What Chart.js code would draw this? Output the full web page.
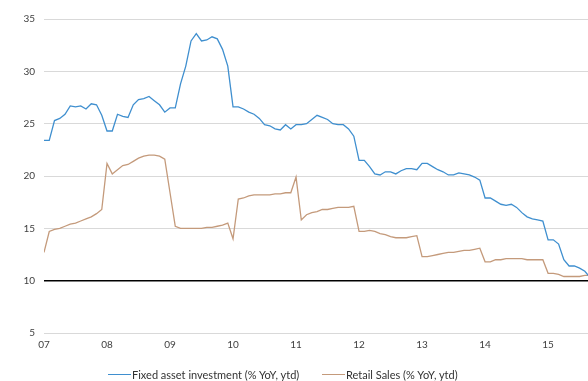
<!DOCTYPE html>
<html>
<head>
<meta charset="utf-8">
<script src="https://cdn.jsdelivr.net/npm/chart.js@4/dist/chart.umd.min.js"></script>
<style>
  html, body { margin: 0; padding: 0; background: #ffffff; }
  #wrap { position: relative; width: 588px; height: 381px; overflow: hidden; font-family: Lato, "Liberation Sans", sans-serif; }
  #c { position: absolute; left: 0; top: 0; }
  .leg { position: absolute; top: 366px; height: 16px; display: flex; align-items: center; font-size: 11px; color: #333333; white-space: nowrap; }
  .leg i { display: inline-block; width: 23px; height: 0; border-top: 1.3px solid; margin-right: 1px; }
</style>
</head>
<body>
<div id="wrap">
  <canvas id="c" width="588" height="381"></canvas>
  <div class="leg" id="leg1" style="left:108px"><i style="border-color:#3f8fcf"></i><span>Fixed asset investment (% YoY, ytd)</span></div>
  <div class="leg" id="leg2" style="left:322px"><i style="border-color:#c49a7b"></i><span>Retail Sales (% YoY, ytd)</span></div>
</div>
<script>
// Year tick labels (one per January, starting Jan 2007)
const yearLabels = ["07", "08", "09", "10", "11", "12", "13", "14", "15"];

// Series names
const seriesNames = ["Fixed asset investment (% YoY, ytd)", "Retail Sales (% YoY, ytd)"];

// Monthly values, Jan 2007 .. Sep 2015
const fixedAssetInvestment = [
  23.4, 23.4, 25.3, 25.5, 25.9, 26.7, 26.6, 26.7, 26.4, 26.9, 26.8, 25.8,
  24.3, 24.3, 25.9, 25.7, 25.6, 26.8, 27.3, 27.4, 27.6, 27.2, 26.8, 26.1,
  26.5, 26.5, 28.8, 30.5, 32.9, 33.6, 32.9, 33.0, 33.3, 33.1, 32.1, 30.5,
  26.6, 26.6, 26.4, 26.1, 25.9, 25.5, 24.9, 24.8, 24.5, 24.4, 24.9, 24.5,
  24.9, 24.9, 25.0, 25.4, 25.8, 25.6, 25.4, 25.0, 24.9, 24.9, 24.5, 23.8,
  21.5, 21.5, 20.9, 20.2, 20.1, 20.4, 20.4, 20.2, 20.5, 20.7, 20.7, 20.6,
  21.2, 21.2, 20.9, 20.6, 20.4, 20.1, 20.1, 20.3, 20.2, 20.1, 19.9, 19.6,
  17.9, 17.9, 17.6, 17.3, 17.2, 17.3, 17.0, 16.5, 16.1, 15.9, 15.8, 15.7,
  13.9, 13.9, 13.5, 12.0, 11.4, 11.4, 11.2, 10.9, 10.3
];
const retailSales = [
  12.7, 14.7, 14.9, 15.0, 15.2, 15.4, 15.5, 15.7, 15.9, 16.1, 16.4, 16.8,
  21.2, 20.2, 20.6, 21.0, 21.1, 21.4, 21.7, 21.9, 22.0, 22.0, 21.9, 21.6,
  18.4, 15.2, 15.0, 15.0, 15.0, 15.0, 15.0, 15.1, 15.1, 15.2, 15.3, 15.5,
  14.0, 17.8, 17.9, 18.1, 18.2, 18.2, 18.2, 18.2, 18.3, 18.3, 18.4, 18.4,
  19.9, 15.8, 16.3, 16.5, 16.6, 16.8, 16.8, 16.9, 17.0, 17.0, 17.0, 17.1,
  14.7, 14.7, 14.8, 14.7, 14.5, 14.4, 14.2, 14.1, 14.1, 14.1, 14.2, 14.3,
  12.3, 12.3, 12.4, 12.5, 12.6, 12.7, 12.7, 12.8, 12.9, 12.9, 13.0, 13.1,
  11.8, 11.8, 12.0, 12.0, 12.1, 12.1, 12.1, 12.1, 12.0, 12.0, 12.0, 12.0,
  10.7, 10.7, 10.6, 10.4, 10.4, 10.4, 10.4, 10.5, 10.5
];

const toPoints = arr => arr.map((v, i) => ({ x: i, y: v }));
const tickFont = { family: "Lato, 'Liberation Sans', sans-serif", size: 10 };

new Chart(document.getElementById('c'), {
  type: 'line',
  data: {
    datasets: [
      { label: seriesNames[0], data: toPoints(fixedAssetInvestment), borderColor: '#3f8fcf', borderWidth: 1.3, pointRadius: 0, tension: 0, fill: false },
      { label: seriesNames[1], data: toPoints(retailSales), borderColor: '#c49a7b', borderWidth: 1.3, pointRadius: 0, tension: 0, fill: false }
    ]
  },
  options: {
    responsive: false,
    animation: false,
    events: [],
    layout: { padding: { top: 19, right: 0, bottom: 28, left: 0 } },
    plugins: { legend: { display: false }, tooltip: { enabled: false } },
    scales: {
      x: {
        type: 'linear',
        min: 0,
        max: 103.6,
        afterFit: s => { s.height = 20; },
        afterBuildTicks: s => { s.ticks = yearLabels.map((_, i) => ({ value: i * 12 })); },
        ticks: {
          autoSkip: false, maxRotation: 0, padding: 6, color: '#404040', font: tickFont,
          callback: (v) => yearLabels[Math.round(v / 12)]
        },
        grid: { display: false, drawTicks: false },
        border: { display: false }
      },
      y: {
        min: 5,
        max: 35,
        afterFit: s => { s.width = 44; },
        ticks: { stepSize: 5, padding: 9, color: '#404040', font: tickFont },
        grid: {
          drawTicks: false,
          color: ctx => ctx.tick && ctx.tick.value === 10 ? '#000000' : '#d9d9d9',
          lineWidth: ctx => ctx.tick && ctx.tick.value === 10 ? 1.6 : 1
        },
        border: { display: false }
      }
    }
  }
});
</script>
</body>
</html>
